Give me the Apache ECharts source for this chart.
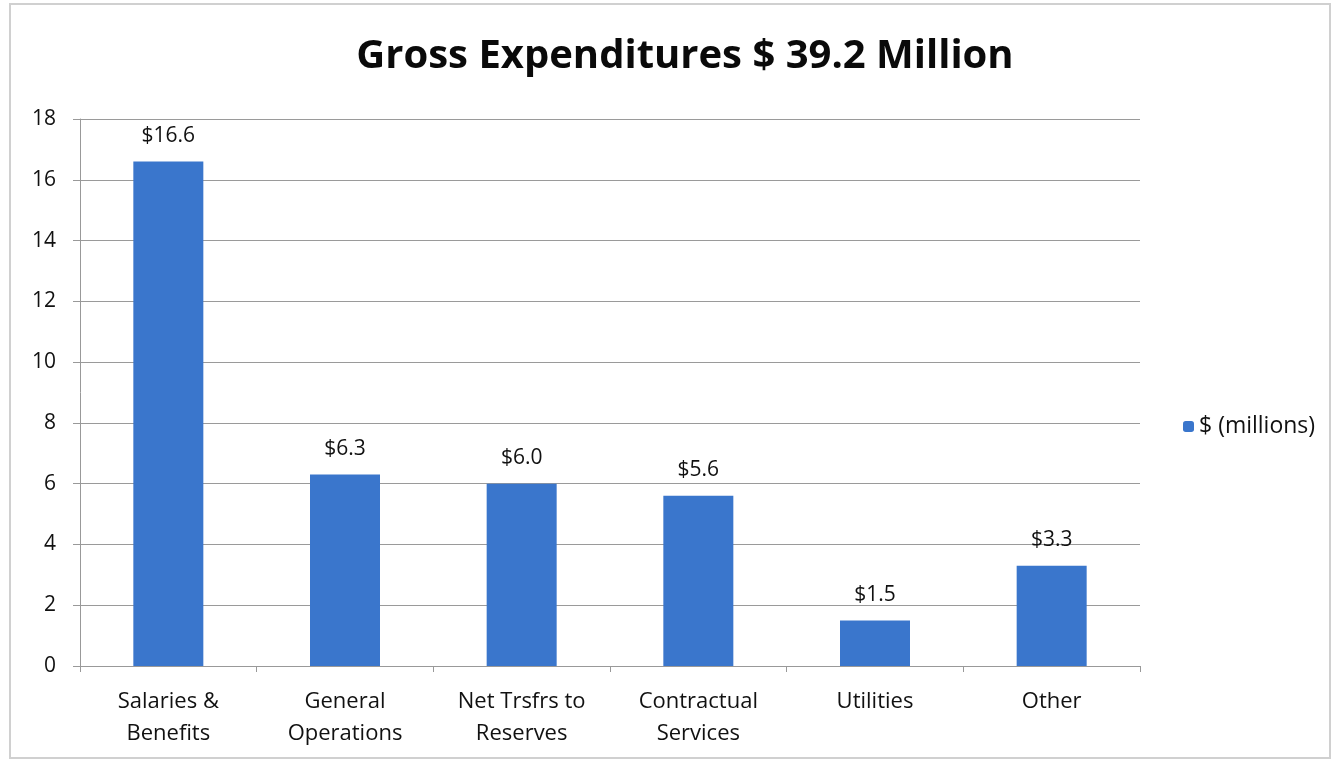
<!DOCTYPE html>
<html>
<head>
<meta charset="utf-8">
<script src="https://cdn.jsdelivr.net/npm/echarts@6/dist/echarts.min.js"></script>
<style>
  html, body { margin: 0; padding: 0; background: #fff; }
  #chart { width: 1334px; height: 762px; }
</style>
</head>
<body>
<div id="chart"></div>
<script>
// Expenditure categories and amounts ($ millions)
const categories = ['Salaries &\nBenefits', 'General\nOperations', 'Net Trsfrs to\nReserves', 'Contractual\nServices', 'Utilities', 'Other'];
const amounts = [16.6, 6.3, 6.0, 5.6, 1.5, 3.3];
const seriesName = '$ (millions)';
const titleText = 'Gross Expenditures $ 39.2 Million';

const FONT = '"Open Sans", Lato, sans-serif';
const chart = echarts.init(document.getElementById('chart'));

chart.setOption({
  backgroundColor: '#ffffff',
  animation: false,
  title: {
    text: titleText,
    left: 680,
    top: 32,
    textAlign: 'center',
    textStyle: { fontFamily: FONT, fontWeight: 'bold', fontSize: 40, color: '#0a0a0a' }
  },
  legend: {
    data: [seriesName],
    left: 1178,
    top: 410,
    orient: 'vertical',
    itemWidth: 11,
    itemHeight: 11,
    itemGap: 4,
    textStyle: { fontFamily: FONT, fontSize: 23, color: '#111' }
  },
  grid: { left: 80, right: 194, top: 119, bottom: 96, containLabel: false },
  xAxis: {
    type: 'category',
    data: categories,
    axisLine: { lineStyle: { color: '#999', width: 1 } },
    axisTick: { show: true, alignWithLabel: false, length: 6, lineStyle: { color: '#999' } },
    axisLabel: { fontFamily: FONT, fontSize: 22, color: '#111', margin: 20, lineHeight: 32 }
  },
  yAxis: {
    type: 'value',
    min: 0,
    max: 18,
    interval: 2,
    axisLine: { show: true, lineStyle: { color: '#999', width: 1 } },
    axisTick: { show: true, length: 7, lineStyle: { color: '#999' } },
    axisLabel: { fontFamily: FONT, fontSize: 21, color: '#111', margin: 24 },
    splitLine: { lineStyle: { color: '#9a9a9a', width: 1 } }
  },
  series: [{
    name: seriesName,
    type: 'bar',
    data: amounts,
    barWidth: 70,
    itemStyle: { color: '#3a76cc' },
    label: {
      show: true,
      position: 'top',
      distance: 15,
      formatter: p => '$' + p.value.toFixed(1),
      fontFamily: FONT,
      fontSize: 21,
      color: '#111'
    }
  }],
  graphic: [{
    type: 'rect',
    shape: { x: 10, y: 4, width: 1320, height: 754 },
    style: { fill: 'none', stroke: '#d0d0d0', lineWidth: 2 },
    silent: true
  }]
});
</script>
</body>
</html>
